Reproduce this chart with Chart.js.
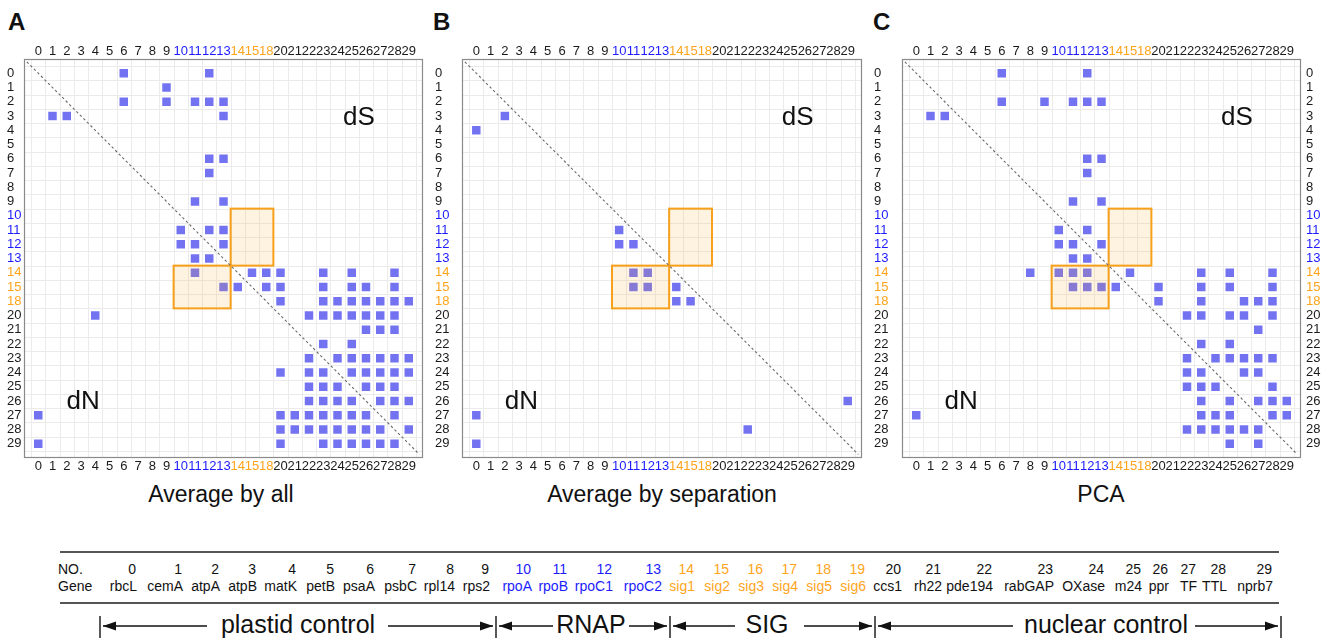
<!DOCTYPE html>
<html>
<head>
<meta charset="utf-8">
<script src="https://cdn.jsdelivr.net/npm/chart.js@4.4.1/dist/chart.umd.min.js"></script>
<style>
  body { margin:0; background:#fff; width:1325px; height:639px; overflow:hidden; position:relative;
         font-family:"Liberation Sans", Arial, sans-serif; }
  canvas { position:absolute; top:0; }
  #deco { position:absolute; left:0; top:0; }
</style>
</head>
<body>
<svg id="deco" width="1325" height="639" xmlns="http://www.w3.org/2000/svg"></svg>
<canvas id="cA" width="440" height="480" style="left:0px"></canvas>
<canvas id="cB" width="440" height="480" style="left:430px"></canvas>
<canvas id="cC" width="457" height="480" style="left:868px"></canvas>
<script>
// --- axis categories (gene numbers in matrix order) ---
const geneNo = [0,1,2,3,4,5,6,7,8,9,10,11,12,13,14,15,18,20,21,22,23,24,25,26,27,28,29];

// --- significant pairs [column gene, row gene] per method ---
const allPairs = [
  [6,0],[12,0],[9,1],[6,2],[9,2],[11,2],[12,2],[13,2],[1,3],[2,3],[13,3],
  [12,6],[13,6],[12,7],[11,9],[13,9],[10,11],[12,11],[13,11],[10,12],[11,12],[13,12],
  [11,13],[12,13],
  [11,14],[15,14],[18,14],[20,14],[23,14],[25,14],[28,14],
  [13,15],[14,15],[18,15],[20,15],[23,15],[25,15],[26,15],[28,15],
  [20,18],[23,18],[24,18],[25,18],[26,18],[27,18],[28,18],[29,18],
  [4,20],[22,20],[23,20],[24,20],[25,20],[26,20],[27,20],[28,20],
  [26,21],[27,21],[28,21],[23,22],[25,22],
  [22,23],[24,23],[25,23],[26,23],[27,23],[28,23],[29,23],
  [20,24],[22,24],[23,24],[25,24],[26,24],[27,24],[28,24],[29,24],
  [22,25],[23,25],[24,25],[26,25],[27,25],[28,25],
  [22,26],[23,26],[24,26],[25,26],[27,26],[28,26],[29,26],
  [0,27],[20,27],[21,27],[22,27],[23,27],[24,27],[25,27],[26,27],[28,27],
  [20,28],[21,28],[22,28],[23,28],[24,28],[25,28],[26,28],[27,28],[29,28],
  [0,29],[20,29],[23,29],[24,29],[25,29],[26,29],[27,29],[28,29]
];
const sepPairs = [
  [2,3],[0,4],[10,11],[10,12],[11,12],[11,14],[12,14],[11,15],[12,15],[14,15],
  [14,18],[15,18],[29,26],[0,27],[22,28],[0,29]
];
const pcaPairs = [
  [6,0],[12,0],[6,2],[9,2],[11,2],[12,2],[13,2],[1,3],[2,3],
  [12,6],[13,6],[12,7],[11,9],[13,9],[10,11],[12,11],[10,12],[11,12],[13,12],[11,13],[12,13],
  [8,14],[10,14],[11,14],[12,14],[15,14],[23,14],[25,14],[28,14],
  [11,15],[12,15],[13,15],[14,15],[20,15],[23,15],[25,15],[28,15],
  [20,18],[23,18],[26,18],[27,18],[28,18],
  [22,20],[23,20],[25,20],[26,20],[28,20],
  [27,21],[23,22],[25,22],
  [22,23],[24,23],[25,23],[26,23],[27,23],[28,23],
  [22,24],[23,24],[26,24],[27,24],
  [22,25],[23,25],[24,25],[28,25],
  [23,26],[25,26],[27,26],[28,26],[29,26],
  [0,27],[23,27],[24,27],[25,27],[28,27],[29,27],
  [22,28],[23,28],[24,28],[25,28],[26,28],[27,28],
  [25,29],[27,29]
];
// highlighted blocks: [col from, col to, row from, row to] in gene numbers
const boxUpper = [14, 18, 10, 13];
const boxLower = [10, 13, 14, 18];

// --- gene table ---
const geneNames = ['rbcL','cemA','atpA','atpB','matK','petB','psaA','psbC','rpl14','rps2',
  'rpoA','rpoB','rpoC1','rpoC2','sig1','sig2','sig3','sig4','sig5','sig6',
  'ccs1','rh22','pde194','rabGAP','OXase','m24','ppr','TF','TTL','nprb7'];
const nameRight = [137,183,220,257,297,335,375,417,455,490,532,568,613,662,695,730,764,798,832,866,
  902,942,993,1054,1105,1142,1169,1197,1227,1273];

const FONT = '"Liberation Sans", Arial, sans-serif';
const BLUE = '#1c1cff', ORANGE = '#ffa41b', INK = '#1a1a1a';

function idx(g) { return geneNo.indexOf(g); }
function tickLabel(v) { return (v >= 0 && v <= 26) ? String(geneNo[v]) : ''; }
function tickColor(v) {
  if (v >= 10 && v <= 13) return BLUE;
  if (v >= 14 && v <= 16) return ORANGE;
  return INK;
}

// grid, blocks, diagonal, frame, dS/dN
const matrixDeco = {
  id: 'matrixDeco',
  beforeDatasetsDraw(chart) {
    const { ctx, chartArea: a, scales: { x, y } } = chart;
    ctx.save();
    ctx.strokeStyle = '#ebebeb';
    ctx.lineWidth = 1;
    for (let i = -0.5; i <= 26.5; i += 1) {
      const px = Math.round(x.getPixelForValue(i)) + 0.5;
      const py = Math.round(y.getPixelForValue(i)) + 0.5;
      ctx.beginPath(); ctx.moveTo(px, a.top); ctx.lineTo(px, a.bottom); ctx.stroke();
      ctx.beginPath(); ctx.moveTo(a.left, py); ctx.lineTo(a.right, py); ctx.stroke();
    }
    ctx.restore();
  },
  afterDatasetsDraw(chart) {
    const { ctx, chartArea: a, scales: { x, y } } = chart;
    ctx.save();
    [boxUpper, boxLower].forEach(b => {
      const x0 = x.getPixelForValue(idx(b[0]) - 0.5), x1 = x.getPixelForValue(idx(b[1]) + 0.5);
      const y0 = y.getPixelForValue(idx(b[2]) - 0.5), y1 = y.getPixelForValue(idx(b[3]) + 0.5);
      ctx.fillStyle = 'rgba(248,170,50,0.15)';
      ctx.fillRect(x0, y0, x1 - x0, y1 - y0);
      ctx.strokeStyle = '#f6a01c';
      ctx.lineWidth = 2;
      ctx.strokeRect(x0, y0, x1 - x0, y1 - y0);
    });
    // diagonal
    ctx.strokeStyle = '#6a6a6a';
    ctx.lineWidth = 1.1;
    ctx.setLineDash([2.5, 2.5]);
    ctx.beginPath();
    ctx.moveTo(x.getPixelForValue(-0.8), y.getPixelForValue(-0.8));
    ctx.lineTo(x.getPixelForValue(26.75), y.getPixelForValue(26.75));
    ctx.stroke();
    ctx.setLineDash([]);
    // frame
    ctx.strokeStyle = '#8a8a8a';
    ctx.lineWidth = 1.2;
    ctx.strokeRect(a.left + 0.5, a.top + 0.5, a.right - a.left - 1, a.bottom - a.top - 1);
    // labels
    ctx.fillStyle = '#111';
    ctx.font = '26px ' + FONT;
    ctx.textAlign = 'center';
    ctx.textBaseline = 'alphabetic';
    ctx.fillText('dS', x.getPixelForValue(22.5), y.getPixelForValue(3.65));
    ctx.fillText('dN', x.getPixelForValue(3.15), y.getPixelForValue(23.55));
    ctx.restore();
  }
};

function axisTicks(extra) {
  return Object.assign({
    stepSize: 1, autoSkip: false, maxRotation: 0, minRotation: 0,
    font: { family: FONT, size: 13 },
    color: c => tickColor(c.tick.value),
    callback: v => tickLabel(v)
  }, extra);
}

function makeMatrix(id, pairs, o) {
  const pts = pairs.map(p => ({ x: idx(p[0]), y: idx(p[1]) }));
  const base = { type: 'linear', min: -1, max: 27, grid: { display: false, drawTicks: false }, border: { display: false } };
  const scales = {
    x: Object.assign({}, base, { position: 'top', ticks: axisTicks({ padding: 0 }), afterFit: s => { s.height = 18; } }),
    xb: Object.assign({}, base, { position: 'bottom', ticks: axisTicks({ padding: 1 }), afterFit: s => { s.height = 18; } }),
    y: Object.assign({}, base, { position: 'left', reverse: true, ticks: axisTicks({ crossAlign: 'far' }), afterFit: s => { s.width = o.yw; } })
  };
  if (o.rw) {
    scales.yr = Object.assign({}, base, { position: 'right', reverse: true, ticks: axisTicks({ crossAlign: 'near', padding: 5 }), afterFit: s => { s.width = o.rw; } });
  }
  return new Chart(document.getElementById(id), {
    type: 'scatter',
    data: { datasets: [{ data: pts, pointStyle: 'rect', pointRadius: 6, pointBorderWidth: 0,
      backgroundColor: '#7373f2', borderColor: '#7373f2' }] },
    options: {
      responsive: false, animation: false, events: [],
      layout: { padding: o.pad },
      plugins: { legend: { display: false }, tooltip: { enabled: false } },
      scales
    },
    plugins: [matrixDeco]
  });
}

makeMatrix('cA', allPairs, { yw: 17, pad: { left: 7, right: 17, top: 41, bottom: 4 } });
makeMatrix('cB', sepPairs, { yw: 27, pad: { left: 5, right: 8, top: 41, bottom: 4 } });
makeMatrix('cC', pcaPairs, { yw: 28, rw: 24, pad: { left: 6, right: 0, top: 41, bottom: 4 } });

// --- static text: panel letters, titles, gene table ---
const svg = document.getElementById('deco');
const NS = 'http://www.w3.org/2000/svg';
function el(tag, attrs, text) {
  const e = document.createElementNS(NS, tag);
  for (const k in attrs) e.setAttribute(k, attrs[k]);
  if (text !== undefined) e.textContent = text;
  svg.appendChild(e);
  return e;
}
const ff = 'Liberation Sans, Arial, sans-serif';
[['A', 8], ['B', 433], ['C', 873]].forEach(([t, x]) =>
  el('text', { x, y: 30, 'font-family': ff, 'font-size': 24, 'font-weight': 'bold', fill: '#111' }, t));
[['Average by all', 221], ['Average by separation', 662], ['PCA', 1101]].forEach(([t, x]) =>
  el('text', { x, y: 502, 'font-family': ff, 'font-size': 23, 'text-anchor': 'middle', fill: '#111' }, t));

el('line', { x1: 60, y1: 552, x2: 1279, y2: 552, stroke: '#555', 'stroke-width': 2 });
el('line', { x1: 60, y1: 603, x2: 1279, y2: 603, stroke: '#555', 'stroke-width': 2 });
el('text', { x: 58, y: 574, 'font-family': ff, 'font-size': 14, fill: '#111' }, 'NO.');
el('text', { x: 58, y: 591, 'font-family': ff, 'font-size': 14, fill: '#111' }, 'Gene');
geneNames.forEach((g, i) => {
  const col = (i >= 10 && i <= 13) ? BLUE : (i >= 14 && i <= 19) ? ORANGE : '#111';
  el('text', { x: nameRight[i] - 1, y: 574, 'font-family': ff, 'font-size': 14, 'text-anchor': 'end', fill: col }, String(i));
  el('text', { x: nameRight[i], y: 591, 'font-family': ff, 'font-size': 14, 'text-anchor': 'end', fill: col }, g);
});

// group brackets
const groupNames = ['plastid control', 'RNAP', 'SIG', 'nuclear control'];
const groupBars = [100, 496, 670, 875, 1281];
const groupText = [298, 591, 767, 1106];
const groupArrows = [[207, 388], [553, 629], [735, 804], [1013, 1195]];
groupBars.forEach(x => el('line', { x1: x, y1: 616, x2: x, y2: 638, stroke: '#222', 'stroke-width': 1.5 }));
function arrow(xa, xb, headAtStart) {
  el('line', { x1: xa, y1: 626, x2: xb, y2: 626, stroke: '#111', 'stroke-width': 1.5 });
  const hx = headAtStart ? xa : xb, d = headAtStart ? 13 : -13;
  el('polygon', { points: `${hx},626 ${hx + d},621.5 ${hx + d},630.5`, fill: '#111' });
}
groupNames.forEach((g, i) => {
  el('text', { x: groupText[i], y: 633, 'font-family': ff, 'font-size': 25, 'text-anchor': 'middle', fill: '#111' }, g);
  arrow(groupBars[i] + 3, groupArrows[i][0], true);
  arrow(groupArrows[i][1], groupBars[i + 1] - 3, false);
});
</script>
</body>
</html>
